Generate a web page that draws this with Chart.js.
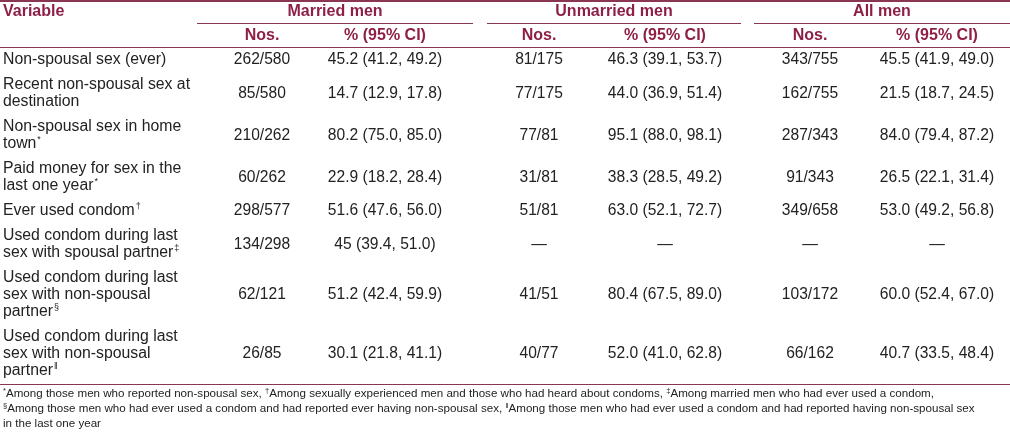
<!DOCTYPE html>
<html>
<head>
<meta charset="utf-8">
<script src="https://cdn.jsdelivr.net/npm/chart.js@4.4.1/dist/chart.umd.min.js"></script>
<style>
  html, body { margin: 0; padding: 0; background: #fff; }
  #tbl { display: block; }
</style>
</head>
<body>
<canvas id="tbl" width="1010" height="432"></canvas>
<script>
// ---- table values ----
const variables = [
  ["Non-spousal sex (ever)"],
  ["Recent non-spousal sex at", "destination"],
  ["Non-spousal sex in home", "town"],
  ["Paid money for sex in the", "last one year"],
  ["Ever used condom"],
  ["Used condom during last", "sex with spousal partner"],
  ["Used condom during last", "sex with non-spousal", "partner"],
  ["Used condom during last", "sex with non-spousal", "partner"],
];
const noteMarks = ["", "", "*", "*", "\u2020", "\u2021", "\u00a7", "\u2016"];
const groups = ["Married men", "Unmarried men", "All men"];
const subHeaders = ["Nos.", "% (95% CI)"];

const marriedNos = ["262/580", "85/580", "210/262", "60/262", "298/577", "134/298", "62/121", "26/85"];
const marriedPct = ["45.2 (41.2, 49.2)", "14.7 (12.9, 17.8)", "80.2 (75.0, 85.0)", "22.9 (18.2, 28.4)",
                    "51.6 (47.6, 56.0)", "45 (39.4, 51.0)", "51.2 (42.4, 59.9)", "30.1 (21.8, 41.1)"];
const unmarriedNos = ["81/175", "77/175", "77/81", "31/81", "51/81", "\u2014", "41/51", "40/77"];
const unmarriedPct = ["46.3 (39.1, 53.7)", "44.0 (36.9, 51.4)", "95.1 (88.0, 98.1)", "38.3 (28.5, 49.2)",
                      "63.0 (52.1, 72.7)", "\u2014", "80.4 (67.5, 89.0)", "52.0 (41.0, 62.8)"];
const allNos = ["343/755", "162/755", "287/343", "91/343", "349/658", "\u2014", "103/172", "66/162"];
const allPct = ["45.5 (41.9, 49.0)", "21.5 (18.7, 24.5)", "84.0 (79.4, 87.2)", "26.5 (22.1, 31.4)",
                "53.0 (49.2, 56.8)", "\u2014", "60.0 (52.4, 67.0)", "40.7 (33.5, 48.4)"];

const footnotes = [
  [["*", "Among those men who reported non-spousal sex, "],
   ["\u2020", "Among sexually experienced men and those who had heard about condoms, "],
   ["\u2021", "Among married men who had ever used a condom,"]],
  [["\u00a7", "Among those men who had ever used a condom and had reported ever having non-spousal sex, "],
   ["\u2016", "Among those men who had ever used a condom and had reported having non-spousal sex"]],
  [["", "in the last one year"]],
];

// ---- layout ----
const FONT = "'Liberation Sans', Arial, sans-serif";
const MAROON = "#8e1f47";
const RULE = "#8a3553";
const INK = "#222";
const LINE = 17, PAD = 8;
const HEAD_ROW1 = 12, GROUP_RULE = 23.5, HEAD_ROW2 = 36, HEAD_RULE = 47.5;
const LEFT = 3;
const colX = [262, 385, 539, 665, 810, 937];
const groupSpans = [[197, 473], [487, 741], [754, 1010]];
const FOOT_Y = 394, FOOT_LINE = 15;

const rowCenters = [];
let yCursor = HEAD_RULE;
variables.forEach(lines => {
  const h = lines.length * LINE + PAD;
  rowCenters.push(yCursor + h / 2);
  yCursor += h;
});
const tableBottom = Math.round(yCursor) + 0.5;

const columns = [marriedNos, marriedPct, unmarriedNos, unmarriedPct, allNos, allPct];

function textSet(points, texts, extra) {
  return Object.assign({
    type: "scatter", data: points, texts: texts,
    pointRadius: 0, pointHoverRadius: 0, showLine: false,
  }, extra);
}
function ruleSet(x0, x1, y, width) {
  return {
    type: "scatter", data: [{ x: x0, y: y }, { x: x1, y: y }],
    showLine: true, borderColor: RULE, borderWidth: width || 1,
    pointRadius: 0, pointHoverRadius: 0,
  };
}

const datasets = [];
// rules
datasets.push(ruleSet(0, 1010, 1, 2));
groupSpans.forEach(s => datasets.push(ruleSet(s[0], s[1], GROUP_RULE)));
datasets.push(ruleSet(0, 1010, HEAD_RULE));
datasets.push(ruleSet(0, 1010, tableBottom));

// header
datasets.push(textSet([{ x: LEFT, y: HEAD_ROW1 }], [["Variable"]], { align: "left", bold: true, color: MAROON, size: 16 }));
datasets.push(textSet(groupSpans.map(s => ({ x: (s[0] + s[1]) / 2, y: HEAD_ROW1 })), groups.map(g => [g]),
  { align: "center", bold: true, color: MAROON, size: 16 }));
datasets.push(textSet(colX.map(x => ({ x: x, y: HEAD_ROW2 })), colX.map((x, i) => [subHeaders[i % 2]]),
  { align: "center", bold: true, color: MAROON, size: 16 }));

// body
datasets.push(textSet(rowCenters.map(y => ({ x: LEFT, y: y })), variables,
  { align: "left", color: INK, size: 15.8, marks: noteMarks }));
columns.forEach((vals, c) => {
  datasets.push(textSet(rowCenters.map(y => ({ x: colX[c], y: y })), vals.map(v => [v]),
    { align: "center", color: INK, size: 15.6 }));
});

// footnotes
datasets.push(textSet(footnotes.map((f, i) => ({ x: LEFT, y: FOOT_Y + i * FOOT_LINE })), footnotes,
  { align: "left", color: INK, size: 11.6, footnote: true }));

const cellText = {
  id: "cellText",
  afterDatasetsDraw(chart) {
    const ctx = chart.ctx;
    chart.data.datasets.forEach((ds, di) => {
      if (!ds.texts) return;
      const meta = chart.getDatasetMeta(di);
      ctx.save();
      ctx.fillStyle = ds.color;
      ctx.textBaseline = "middle";
      meta.data.forEach((el, i) => {
        const item = ds.texts[i];
        if (ds.footnote) {
          let x = el.x;
          item.forEach(seg => {
            if (seg[0]) {
              ctx.font = (ds.size * 0.65) + "px " + FONT;
              ctx.textAlign = "left";
              ctx.fillText(seg[0], x, el.y - 3);
              x += ctx.measureText(seg[0]).width;
            }
            ctx.font = ds.size + "px " + FONT;
            ctx.textAlign = "left";
            ctx.fillText(seg[1], x, el.y);
            x += ctx.measureText(seg[1]).width;
          });
          return;
        }
        ctx.font = (ds.bold ? "bold " : "") + ds.size + "px " + FONT;
        ctx.textAlign = ds.align;
        const n = item.length;
        item.forEach((line, k) => {
          const ly = el.y + (k - (n - 1) / 2) * LINE;
          ctx.fillText(line, el.x, ly);
          if (ds.marks && ds.marks[i] && k === n - 1) {
            const w = ctx.measureText(line).width;
            ctx.font = "9px " + FONT;
            ctx.textAlign = "left";
            ctx.fillText(ds.marks[i], el.x + w + 1, ly - 4);
            ctx.font = (ds.bold ? "bold " : "") + ds.size + "px " + FONT;
            ctx.textAlign = ds.align;
          }
        });
      });
      ctx.restore();
    });
  }
};

new Chart(document.getElementById("tbl"), {
  type: "scatter",
  data: { datasets: datasets },
  options: {
    responsive: false,
    animation: false,
    events: [],
    layout: { padding: 0 },
    plugins: { legend: { display: false }, tooltip: { enabled: false }, title: { display: false } },
    scales: {
      x: { type: "linear", min: 0, max: 1010, display: false },
      y: { type: "linear", min: 0, max: 432, reverse: true, display: false },
    },
  },
  plugins: [cellText],
});
</script>
</body>
</html>
